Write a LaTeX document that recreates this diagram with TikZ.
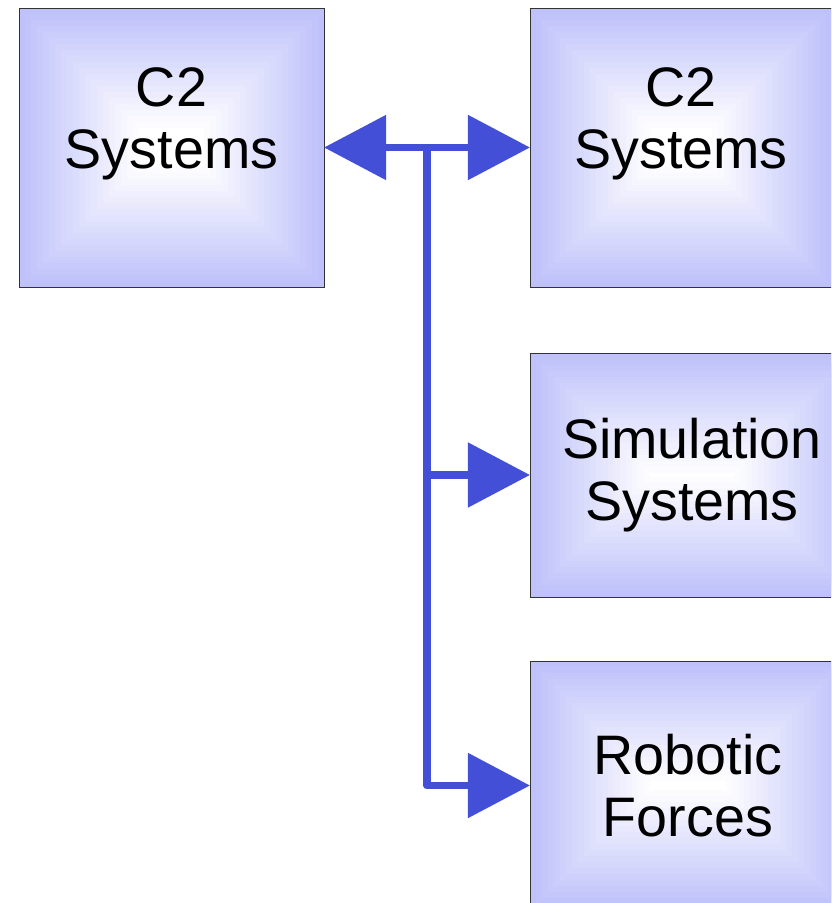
\documentclass[tikz,border=0pt]{standalone}
\usepackage{fontspec}
\setmainfont{Liberation Sans}
\usepackage{tikz}
\usetikzlibrary{arrows.meta,calc}

\definecolor{boxedge}{RGB}{190,193,250}
\definecolor{linkblue}{RGB}{67,79,214}

\tikzset{
  sysbox/.style={draw=black!80, line width=0.8pt, inner sep=0pt, outer sep=0pt,
    fill=boxedge, align=center, font=\fontsize{47.5}{53.5}\selectfont,
    path picture={
      \foreach \k [evaluate=\k as \pct using int(100-5*\k)] in {0,...,20}
        \fill[boxedge!\pct!white]
          ($(path picture bounding box.south west)+(\k*0.18cm,\k*0.18cm)$) rectangle
          ($(path picture bounding box.north east)-(\k*0.18cm,\k*0.18cm)$);
    }},
  link/.style={draw=linkblue, line width=6.8pt, line join=round,
    arrows={-Triangle[length=53pt,width=54pt,color=linkblue]}},
}

\begin{document}
\begin{tikzpicture}[x=0.03cm,y=-0.03cm]
\useasboundingbox (0,0) rectangle (831,903);
\clip (0,0) rectangle (831,903);

% systems
\node[sysbox, minimum width=9.15cm, minimum height=8.37cm] (c2a) at (171.5,147.5) {C2\\Systems\\[-3pt]\mbox{}};
\node[sysbox, minimum width=9.06cm, minimum height=8.37cm] (c2b) at (681,147.5) {C2\\Systems\\[-3pt]\mbox{}};
\node[sysbox, minimum width=9.72cm, minimum height=7.32cm] (sim) at (692,475) {Simulation\\Systems};
\node[sysbox, minimum width=9.48cm, minimum height=7.47cm] (robot) at (688,785.5) {Robotic\\ Forces};

% links
\coordinate (hub) at (427,147.5);
\draw[link, arrows={Triangle[length=53pt,width=54pt,color=linkblue]-Triangle[length=53pt,width=54pt,color=linkblue]}] (c2a.east) -- (c2b.west);
\draw[link] (hub) |- (sim.west);
\draw[link] (hub) |- (robot.west);

\end{tikzpicture}
\end{document}
